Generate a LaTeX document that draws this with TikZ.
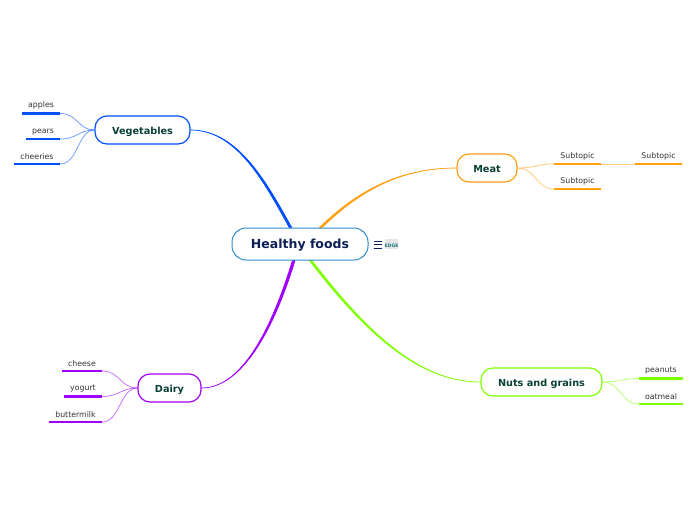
\documentclass[tikz,border=0pt]{standalone}
\usepackage{fontspec}
\setmainfont{DejaVu Sans}
\usetikzlibrary{calc}
\definecolor{vegcol}{HTML}{0050FF}
\definecolor{meatcol}{HTML}{FF9F10}
\definecolor{nutcol}{HTML}{80FF00}
\definecolor{dairycol}{HTML}{A000FF}
\definecolor{mainedge}{HTML}{2E8BCF}
\definecolor{maintext}{HTML}{0A1F55}
\definecolor{toptext}{HTML}{0A4035}
\definecolor{leaftext}{HTML}{333333}
\definecolor{iconcol}{HTML}{1F7A78}

\begin{document}
\begin{tikzpicture}[
  x=1pt, y=-1pt,
  mainbox/.style={draw=mainedge, fill=white, rounded corners=14pt, line width=1pt,
                  minimum width=136pt, minimum height=32pt, text=maintext,
                  text height=9.6pt, text depth=0pt,
                  font=\fontsize{12.5}{15}\selectfont\bfseries},
  topbox/.style={draw, fill=white, rounded corners=12pt, line width=1.2pt,
                 minimum height=28pt, text=toptext,
                 text height=8pt, text depth=0pt,
                 font=\fontsize{9.7}{12}\selectfont\bfseries},
  leafbar/.style={fill, inner sep=0pt, minimum height=2.4pt},
  leaflabel/.style={text=leaftext, font=\fontsize{7.8}{10}\selectfont},
  branch/.style={line width=.7pt},
  twig/.style={line width=.8pt, opacity=.55},
  every label/.style={label distance=-.6pt}
]
  \useasboundingbox (0,0) rectangle (696,520);

  % topics
  \node[topbox, draw=vegcol, minimum width=95pt] (vegetables) at (142.5, 130) {Vegetables};
  \node[topbox, draw=meatcol, minimum width=60pt] (meat) at (487, 168) {Meat};
  \node[topbox, draw=nutcol, minimum width=121pt] (nuts) at (541.5, 382) {Nuts and grains};
  \node[topbox, draw=dairycol, minimum width=63pt] (dairy) at (169.5, 388) {Dairy};
  \coordinate (hub) at (300, 244);

  % main branches
  \filldraw[branch, vegcol] (vegetables.east) .. controls (240, 130) and (268, 190) .. ($(hub)+(-6, -8)$)
    -- ($(hub)+(-3.5, -8)$) .. controls (270, 189) and (241, 130) .. (vegetables.east);
  \filldraw[branch, meatcol] (meat.west) .. controls (400, 168) and (355, 190) .. ($(hub)+(11, -8)$)
    -- ($(hub)+(13.5, -8)$) .. controls (357, 191) and (400, 168) .. (meat.west);
  \filldraw[branch, nutcol] (nuts.west) .. controls (420, 382) and (365, 335) .. ($(hub)+(3, 8)$)
    -- ($(hub)+(5.5, 8)$) .. controls (367, 334) and (420, 382) .. (nuts.west);
  \filldraw[branch, dairycol] (dairy.east) .. controls (245, 388) and (275, 320) .. ($(hub)+(-5, 8)$)
    -- ($(hub)+(-2.5, 8)$) .. controls (278, 320) and (245, 388) .. (dairy.east);

  \node[mainbox] (healthy) at (hub) {Healthy foods};

  % icon
  \coordinate (burger) at (378, 244.5);
  \draw[maintext, line width=.9pt] ($(burger)+(-4, -3.5)$) -- ($(burger)+(4, -3.5)$)
    ($(burger)+(-4, 0)$) -- ($(burger)+(4, 0)$)
    ($(burger)+(-4, 3.5)$) -- ($(burger)+(4, 3.5)$);
  \node[fill=black!10, inner sep=0pt, minimum width=11pt, minimum height=10pt, text=iconcol,
        text height=7pt, text depth=0pt,
        font=\fontsize{4.6}{4.6}\selectfont\bfseries] (edge) at (391.5, 244) {EDGE};

  % vegetables
  \node[leafbar, vegcol, minimum width=38pt, label={[leaflabel]above:apples}] (apples) at (41, 113.5) {};
  \node[leafbar, vegcol, minimum width=34pt, label={[leaflabel]above:pears}] (pears) at (43, 139) {};
  \node[leafbar, vegcol, minimum width=46pt, label={[leaflabel]above:cheeries}] (cheeries) at (37, 164) {};
  \draw[twig, vegcol] (vegetables.west) .. controls (78, 130) and (78, 113.5) .. (apples.east);
  \draw[twig, vegcol] (vegetables.west) .. controls (78, 130) and (78, 139) .. (pears.east);
  \draw[twig, vegcol] (vegetables.west) .. controls (78, 130) and (78, 164) .. (cheeries.east);

  % meat
  \node[leafbar, meatcol, minimum width=47pt, label={[leaflabel]above:Subtopic}] (sub1) at (577.5, 164) {};
  \node[leafbar, meatcol, minimum width=47pt, label={[leaflabel]above:Subtopic}] (sub2) at (658.5, 164) {};
  \node[leafbar, meatcol, minimum width=47pt, label={[leaflabel]above:Subtopic}] (sub3) at (577.5, 189) {};
  \draw[twig, meatcol] (meat.east) .. controls (536, 168) and (536, 164) .. (sub1.west);
  \draw[twig, meatcol] (meat.east) .. controls (536, 168) and (536, 189) .. (sub3.west);
  \draw[twig, meatcol] (sub1.east) -- (sub2.west);

  % nuts and grains
  \node[leafbar, nutcol, minimum width=44pt, label={[leaflabel]above:peanuts}] (peanuts) at (661, 378.5) {};
  \node[leafbar, nutcol, minimum width=44pt, label={[leaflabel]above:oatmeal}] (oatmeal) at (661, 404) {};
  \draw[twig, nutcol] (nuts.east) .. controls (621, 382) and (621, 378.5) .. (peanuts.west);
  \draw[twig, nutcol] (nuts.east) .. controls (621, 382) and (621, 404) .. (oatmeal.west);

  % dairy
  \node[leafbar, dairycol, minimum width=40pt, label={[leaflabel]above:cheese}] (cheese) at (82, 371) {};
  \node[leafbar, dairycol, minimum width=38pt, label={[leaflabel]above:yogurt}] (yogurt) at (83, 396.5) {};
  \node[leafbar, dairycol, minimum width=53pt, label={[leaflabel]above:buttermilk}] (buttermilk) at (75.5, 422) {};
  \draw[twig, dairycol] (dairy.west) .. controls (120, 388) and (120, 371) .. (cheese.east);
  \draw[twig, dairycol] (dairy.west) .. controls (120, 388) and (120, 396.5) .. (yogurt.east);
  \draw[twig, dairycol] (dairy.west) .. controls (120, 388) and (120, 422) .. (buttermilk.east);
\end{tikzpicture}
\end{document}
